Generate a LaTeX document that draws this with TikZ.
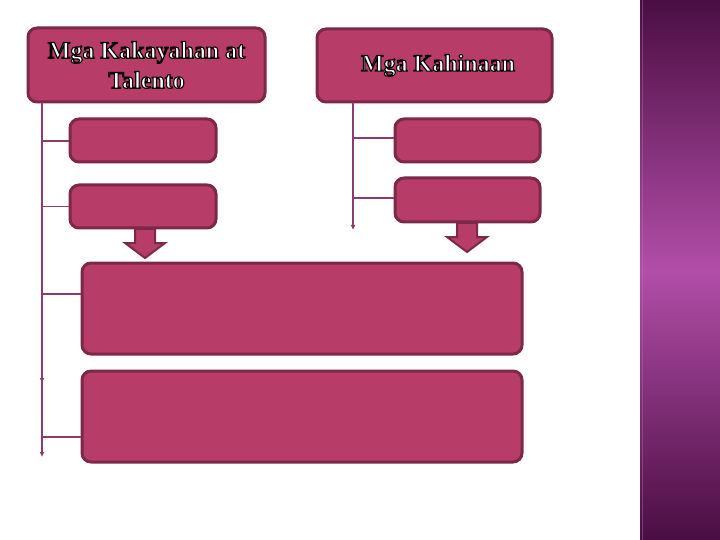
\documentclass[tikz,border=0pt]{standalone}
\usepackage{fontspec}
\setmainfont{Liberation Serif}
\usetikzlibrary{arrows.meta}
\definecolor{boxfill}{HTML}{B83C68}
\definecolor{boxedge}{HTML}{7C2949}
\definecolor{linecol}{HTML}{8C3C6C}
\definecolor{paneltop}{HTML}{4A0E42}
\definecolor{panelmid}{HTML}{B24EA8}
\tikzset{
  box/.style={draw=boxedge, fill=boxfill, line width=3pt, rounded corners=9pt, inner sep=0pt},
  conn/.style={draw=linecol, line width=1.5pt},
  tipped/.style={conn, -{Latex[length=5pt,width=5pt]}},
  bigarrow/.style={draw=boxedge, fill=boxfill, line width=2pt, line join=miter},
  title/.style={font=\bfseries\fontsize{24}{30}\selectfont, align=center, text=white}
}
\newcommand{\outl}[1]{\special{pdf:code 2 Tr 1.1 w 0 G}#1\special{pdf:code 0 Tr}}
\begin{document}
\begin{tikzpicture}[x=1pt,y=-1pt]
\useasboundingbox (0,0) rectangle (720,540);
\fill[white] (0,0) rectangle (720,540);
% right panel
\shade[top color=paneltop, bottom color=panelmid] (640,0) rectangle (720,270);
\shade[top color=panelmid, bottom color=paneltop] (640,270) rectangle (720,540);
\draw[panelmid!80!white, opacity=0.4, line width=1pt] (642,0) -- (642,540);

% header boxes
\node[box, minimum width=237pt, minimum height=74pt, title] (h1) at (146.5,65)
  {\outl{Mga Kakayahan at}\\\outl{Talento}};
\node[box, minimum width=235pt, minimum height=73pt, title] (h2) at (434.5,65.5)
  {\hspace*{7pt}\outl{Mga Kahinaan}};

% small boxes
\node[box, minimum width=146pt, minimum height=43pt] (l1) at (143,140.5) {};
\node[box, minimum width=146pt, minimum height=43pt] (l2) at (143,206.5) {};
\node[box, minimum width=145pt, minimum height=43pt] (r1) at (467.5,140.5) {};
\node[box, minimum width=145pt, minimum height=44pt] (r2) at (467.5,200) {};

% big boxes
\node[box, minimum width=440pt, minimum height=91pt] (b1) at (302,308.5) {};
\node[box, minimum width=440pt, minimum height=91pt] (b2) at (302,416.5) {};

% connector coordinates
\coordinate (ltop) at (42,102);
\coordinate (lmid) at (42,383);
\coordinate (lend) at (42,457);
\coordinate (rtop) at (353,102);
\coordinate (rend) at (353,230);

% left tree
\draw[tipped] (ltop) -- (lmid);
\draw[tipped] (ltop) -- (lend);
\draw[conn] (42,141) -- (l1.west |- 0,141);
\draw[conn] (42,206.5) -- (l2.west);
\draw[conn] (42,294) -- (b1.west |- 0,294);
\draw[conn] (42,437) -- (b2.west |- 0,437);

% right tree
\draw[tipped] (rtop) -- (rend);
\draw[conn] (353,138) -- (r1.west |- 0,138);
\draw[conn] (353,198) -- (r2.west |- 0,198);

% block arrows
\draw[bigarrow] (135,229) -- (135,243) -- (125,243) -- (145,258) -- (165,243) -- (155,243) -- (155,229) -- cycle;
\draw[bigarrow] (457,223) -- (457,237) -- (447,237) -- (467,252) -- (487,237) -- (477,237) -- (477,223) -- cycle;
\end{tikzpicture}
\end{document}
